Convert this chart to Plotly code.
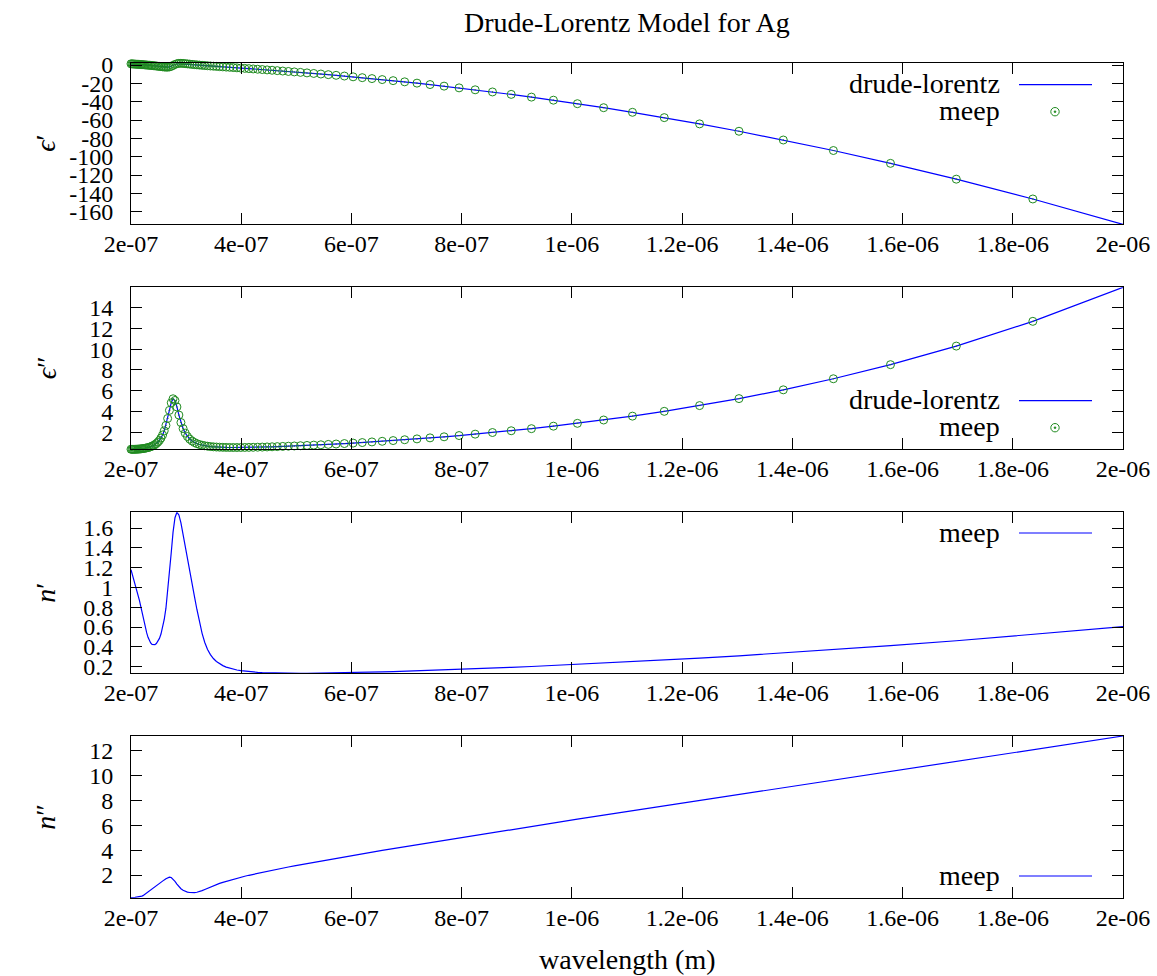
import plotly.graph_objects as go

# ---------------- data ----------------
wavelength_nm = [
    2000.0, 1836.4, 1697.5, 1578.1, 1474.5, 1383.6, 1303.2, 1231.7, 1167.6, 1109.9,
    1057.6, 1010.0, 966.5, 926.6, 889.9, 855.9, 824.5, 795.3, 768.1, 742.6,
    718.9, 696.6, 675.6, 655.8, 637.2, 619.6, 603.0, 587.2, 572.2, 558.0,
    544.5, 531.6, 519.3, 507.5, 496.3, 485.6, 475.3, 465.4, 456.0, 446.9,
    438.2, 429.8, 421.7, 413.9, 406.4, 399.2, 392.2, 385.5, 379.0, 372.7,
    366.6, 360.7, 355.0, 349.5, 344.1, 338.9, 333.9, 329.0, 324.2, 319.6,
    315.1, 310.8, 306.5, 302.4, 298.4, 294.5, 290.6, 286.9, 283.3, 279.8,
    276.3, 273.0, 269.7, 266.5, 263.4, 260.3, 257.3, 254.4, 251.6, 248.8,
    246.0, 243.4, 240.8, 238.2, 235.7, 233.3, 230.9, 228.5, 226.2, 223.9,
    221.7, 219.6, 217.4, 215.4, 213.3, 211.3, 209.3, 207.4, 205.5, 203.6,
    201.8, 200.0]

eps_real = [
    -173.72, -146.10, -124.47, -107.22, -93.24, -81.75, -72.20, -64.17, -57.36, -51.53,
    -46.50, -42.13, -38.31, -34.95, -31.98, -29.34, -26.99, -24.88, -22.98, -21.26,
    -19.70, -18.29, -17.00, -15.82, -14.74, -13.74, -12.82, -11.97, -11.18, -10.45,
    -9.77, -9.13, -8.54, -7.98, -7.46, -6.97, -6.51, -6.07, -5.66, -5.27,
    -4.90, -4.54, -4.21, -3.89, -3.58, -3.28, -3.00, -2.72, -2.45, -2.19,
    -1.94, -1.70, -1.45, -1.21, -0.98, -0.74, -0.50, -0.26, -0.02, 0.23,
    0.49, 0.75, 1.03, 1.30, 1.56, 1.79, 1.93, 1.87, 1.48, 0.68,
    -0.40, -1.40, -2.04, -2.29, -2.28, -2.12, -1.91, -1.68, -1.46, -1.24,
    -1.04, -0.85, -0.67, -0.51, -0.36, -0.22, -0.08, 0.04, 0.16, 0.28,
    0.39, 0.49, 0.59, 0.69, 0.78, 0.87, 0.96, 1.04, 1.12, 1.20,
    1.28, 1.36]

eps_imag = [
    15.92, 12.66, 10.29, 8.51, 7.16, 6.10, 5.26, 4.59, 4.04, 3.58,
    3.21, 2.89, 2.62, 2.38, 2.18, 2.01, 1.855, 1.72, 1.60, 1.50,
    1.40, 1.32, 1.24, 1.17, 1.11, 1.05, 1.00, 0.955, 0.912, 0.873,
    0.838, 0.805, 0.775, 0.748, 0.723, 0.701, 0.680, 0.661, 0.644, 0.630,
    0.616, 0.605, 0.595, 0.587, 0.581, 0.577, 0.575, 0.575, 0.578, 0.584,
    0.592, 0.604, 0.620, 0.640, 0.666, 0.700, 0.741, 0.794, 0.861, 0.946,
    1.056, 1.197, 1.382, 1.627, 1.955, 2.392, 2.968, 3.683, 4.460, 5.079,
    5.244, 4.857, 4.131, 3.357, 2.692, 2.172, 1.778, 1.483, 1.260, 1.090,
    0.958, 0.854, 0.771, 0.705, 0.651, 0.606, 0.569, 0.539, 0.513, 0.491,
    0.473, 0.457, 0.444, 0.433, 0.423, 0.415, 0.412, 0.408, 0.405, 0.405,
    0.404, 0.405]

n_real = [
    0.603, 0.523, 0.461, 0.411, 0.370, 0.337, 0.309, 0.286, 0.267, 0.250,
    0.235, 0.222, 0.211, 0.201, 0.193, 0.185, 0.178, 0.172, 0.167, 0.162,
    0.158, 0.154, 0.150, 0.147, 0.144, 0.142, 0.140, 0.138, 0.136, 0.135,
    0.134, 0.133, 0.1325, 0.1323, 0.1322, 0.1325, 0.1331, 0.1340, 0.1352, 0.1369,
    0.1390, 0.1416, 0.1448, 0.1484, 0.1531, 0.1587, 0.1654, 0.1735, 0.1833, 0.1952,
    0.210, 0.228, 0.2515, 0.2814, 0.3207, 0.3732, 0.4437, 0.5363, 0.650, 0.777,
    0.909, 1.041, 1.172, 1.300, 1.426, 1.546, 1.653, 1.732, 1.759, 1.704,
    1.559, 1.351, 1.133, 0.942, 0.790, 0.676, 0.591, 0.529, 0.485, 0.453,
    0.433, 0.421, 0.419, 0.424, 0.439, 0.462, 0.496, 0.540, 0.591, 0.648,
    0.706, 0.762, 0.816, 0.866, 0.913, 0.957, 0.999, 1.038, 1.075, 1.112,
    1.146, 1.179]

n_imag = [
    13.194, 12.098, 11.166, 10.363, 9.663, 9.048, 8.503, 8.016, 7.578, 7.183,
    6.823, 6.494, 6.193, 5.915, 5.658, 5.420, 5.198, 4.991, 4.796, 4.614,
    4.442, 4.280, 4.126, 3.980, 3.841, 3.709, 3.583, 3.462, 3.347, 3.235,
    3.128, 3.025, 2.925, 2.829, 2.735, 2.643, 2.555, 2.468, 2.383, 2.299,
    2.217, 2.136, 2.056, 1.977, 1.898, 1.818, 1.739, 1.658, 1.577, 1.494,
    1.410, 1.322, 1.231, 1.137, 1.039, 0.937, 0.836, 0.741, 0.663, 0.609,
    0.581, 0.575, 0.590, 0.626, 0.685, 0.774, 0.898, 1.063, 1.268, 1.490,
    1.682, 1.797, 1.824, 1.783, 1.703, 1.606, 1.504, 1.401, 1.300, 1.202,
    1.107, 1.013, 0.921, 0.831, 0.742, 0.656, 0.574, 0.499, 0.434, 0.379,
    0.335, 0.300, 0.272, 0.250, 0.232, 0.217, 0.206, 0.197, 0.188, 0.182,
    0.176, 0.172]

x_tick_vals = [2e-7, 4e-7, 6e-7, 8e-7, 1e-6, 1.2e-6, 1.4e-6, 1.6e-6, 1.8e-6, 2e-6]
x_tick_text = ["2e-07", "4e-07", "6e-07", "8e-07", "1e-06",
               "1.2e-06", "1.4e-06", "1.6e-06", "1.8e-06", "2e-06"]
y1_tick_vals = [0, -20, -40, -60, -80, -100, -120, -140, -160]
y1_tick_text = ["0", "-20", "-40", "-60", "-80", "-100", "-120", "-140", "-160"]
y2_tick_vals = [2, 4, 6, 8, 10, 12, 14]
y2_tick_text = ["2", "4", "6", "8", "10", "12", "14"]
y3_tick_vals = [0.2, 0.4, 0.6, 0.8, 1.0, 1.2, 1.4, 1.6]
y3_tick_text = ["0.2", "0.4", "0.6", "0.8", "1", "1.2", "1.4", "1.6"]
y4_tick_vals = [2, 4, 6, 8, 10, 12]
y4_tick_text = ["2", "4", "6", "8", "10", "12"]

wavelength_m = [v * 1e-9 for v in wavelength_nm]

# ---------------- styling / layout ----------------
W, H = 1157, 976
FONT = "Liberation Serif"
BLUE = "#0000ff"
GREEN = "#1f8a1f"
LEFT, RIGHT = 131, 1123
boxes = [(63.3, 224.3), (287.3, 449.3), (512.3, 673.3), (736.0, 897.7)]


def fx(px):
    return px / W


def fy(py):
    return 1 - py / H


fig = go.Figure()

line_kw = dict(mode="lines", line=dict(color=BLUE, width=1.2), showlegend=False)
mark_kw = dict(mode="markers", showlegend=False, cliponaxis=False,
               marker=dict(symbol="circle-open-dot", size=8, color=GREEN,
                           line=dict(width=1, color=GREEN)))

fig.add_trace(go.Scatter(x=wavelength_m, y=eps_real, xaxis="x", yaxis="y",
                         name="drude-lorentz", **line_kw))
fig.add_trace(go.Scatter(x=wavelength_m, y=eps_real, xaxis="x", yaxis="y",
                         name="meep", **mark_kw))
fig.add_trace(go.Scatter(x=wavelength_m, y=eps_imag, xaxis="x2", yaxis="y2",
                         name="drude-lorentz", **line_kw))
fig.add_trace(go.Scatter(x=wavelength_m, y=eps_imag, xaxis="x2", yaxis="y2",
                         name="meep", **mark_kw))
fig.add_trace(go.Scatter(x=wavelength_m, y=n_real, xaxis="x3", yaxis="y3",
                         name="meep", **line_kw))
fig.add_trace(go.Scatter(x=wavelength_m, y=n_imag, xaxis="x4", yaxis="y4",
                         name="meep", **line_kw))

tick_font = dict(family=FONT, size=24, color="black")
common = dict(ticks="inside", ticklen=11, tickwidth=1, tickcolor="black",
              showline=True, linecolor="black", linewidth=1, mirror="allticks",
              showgrid=False, zeroline=False, tickfont=tick_font, automargin=False)

series = [eps_real, eps_imag, n_real, n_imag]
yticks = [(y1_tick_vals, y1_tick_text), (y2_tick_vals, y2_tick_text),
          (y3_tick_vals, y3_tick_text), (y4_tick_vals, y4_tick_text)]

layout = dict(template="none", width=W, height=H, margin=dict(l=0, r=0, t=0, b=0),
              paper_bgcolor="white", plot_bgcolor="white", showlegend=False,
              font=dict(family=FONT, color="black"))
for i, ((top, bot), ys, (tv, tt)) in enumerate(zip(boxes, series, yticks)):
    sfx = "" if i == 0 else str(i + 1)
    layout["xaxis" + sfx] = dict(domain=[fx(LEFT), fx(RIGHT)], anchor="y" + sfx,
                                 range=[2e-7, 2e-6], tickmode="array",
                                 tickvals=x_tick_vals, ticktext=x_tick_text,
                                 ticklabelstandoff=-2, **common)
    layout["yaxis" + sfx] = dict(domain=[fy(bot), fy(top)], anchor="x" + sfx,
                                 range=[min(ys), max(ys)], tickmode="array",
                                 tickvals=tv, ticktext=tt,
                                 ticklabelstandoff=12, **common)
fig.update_layout(**layout)

text_font = dict(family=FONT, size=28, color="black")
annotations = [
    dict(text="Drude-Lorentz Model for Ag", x=fx(627), y=fy(22), yanchor="middle"),
    dict(text="wavelength (m)", x=fx(627), y=0.0, yanchor="bottom", borderpad=0),
]
ylabels = ["<i>ϵ</i>′", "<i>ϵ</i>″", "<i>n</i>′", "<i>n</i>″"]
for (top, bot), lab in zip(boxes, ylabels):
    annotations.append(dict(text=lab, x=fx(46), y=fy((top + bot) / 2), textangle=-90))

# legends (gnuplot style: right aligned text, sample to the right)
legend_rows = [
    [("drude-lorentz", "line", 84.7), ("meep", "point", 111.7)],
    [("drude-lorentz", "line", 400.7), ("meep", "point", 427.7)],
    [("meep", "line", 533.0)],
    [("meep", "line", 876.0)],
]
shapes = []
for rows in legend_rows:
    for label, kind, ry in rows:
        annotations.append(dict(text=label, x=fx(1002), y=fy(ry - 1), xanchor="right"))
        if kind == "line":
            shapes.append(dict(type="line", xref="paper", yref="paper",
                               x0=fx(1019), x1=fx(1092), y0=fy(ry), y1=fy(ry),
                               line=dict(color=BLUE, width=1.2)))
        else:
            r = 4.2
            shapes.append(dict(type="circle", xref="paper", yref="paper",
                               x0=fx(1055 - r), x1=fx(1055 + r),
                               y0=fy(ry + r), y1=fy(ry - r),
                               line=dict(color=GREEN, width=1)))
            d = 1.0
            shapes.append(dict(type="circle", xref="paper", yref="paper",
                               x0=fx(1055 - d), x1=fx(1055 + d),
                               y0=fy(ry + d), y1=fy(ry - d),
                               fillcolor=GREEN, line=dict(color=GREEN, width=0.5)))

for a in annotations:
    a.setdefault("xanchor", "center")
    a.setdefault("yanchor", "middle")
    a.update(xref="paper", yref="paper", showarrow=False, font=text_font)

fig.update_layout(annotations=annotations, shapes=shapes)
fig.write_html("out.html")
